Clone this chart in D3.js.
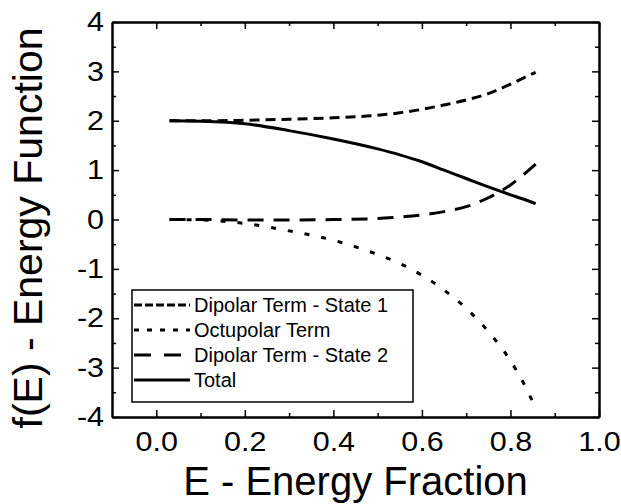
<!DOCTYPE html>
<html>
<head>
<meta charset="utf-8">
<script src="https://cdn.jsdelivr.net/npm/d3@7"></script>
<style>
  body { margin: 0; background: #fff; }
  svg { display: block; font-family: "Liberation Sans", Arial, Helvetica, sans-serif; }
  .tick text { font-size: 27px; fill: #000; transform-box: fill-box; }
  .x-axis .tick text { transform: scaleX(1.13); transform-origin: center; }
  .y-axis .tick text { transform: scaleX(1.13); transform-origin: right; }
  .tick line { stroke: #000; stroke-width: 1.5; }
  .domain { stroke: #000; stroke-width: 2; }
  .curve { fill: none; stroke: #000; stroke-width: 3; }
</style>
</head>
<body>
<svg width="621" height="504"></svg>
<script>
  // energy fraction sample points
  const energy = [0.03, 0.1, 0.2, 0.3, 0.4, 0.5, 0.55, 0.6, 0.65, 0.7, 0.75, 0.8, 0.83, 0.857];

  const dipolarState1 = [2.0, 2.0, 2.01, 2.03, 2.06, 2.11, 2.16, 2.23, 2.32, 2.42, 2.55, 2.74, 2.87, 2.98];
  const octupolar = [0.0, -0.01, -0.08, -0.23, -0.42, -0.71, -0.89, -1.13, -1.43, -1.8, -2.27, -2.86, -3.32, -3.82];
  const dipolarState2 = [0.0, 0.0, -0.01, -0.01, 0.0, 0.02, 0.05, 0.09, 0.16, 0.26, 0.44, 0.7, 0.91, 1.12];
  const total = [2.0, 1.99, 1.94, 1.8, 1.63, 1.43, 1.31, 1.17, 1.0, 0.83, 0.66, 0.5, 0.41, 0.32];

  const seriesNames = ["Dipolar Term - State 1", "Octupolar Term", "Dipolar Term - State 2", "Total"];
  const seriesValues = [dipolarState1, octupolar, dipolarState2, total];
  const seriesDash = ["10,6", "5,12", "16,10", null];
  const legendDash = ["8,3", "5,8", "17,13", null];

  const xMajor = [0.0, 0.2, 0.4, 0.6, 0.8, 1.0];
  const xMinor = [0.1, 0.3, 0.5, 0.7, 0.9];
  const yMajor = [-4, -3, -2, -1, 0, 1, 2, 3, 4];
  const yMinor = [-3.5, -2.5, -1.5, -0.5, 0.5, 1.5, 2.5, 3.5];

  const svg = d3.select("svg");
  svg.append("rect").attr("width", 621).attr("height", 504).attr("fill", "#fff");

  const plotLeft = 112, plotRight = 599, plotTop = 22, plotBottom = 417;

  const x = d3.scaleLinear().domain([-0.1, 1.0]).range([plotLeft, plotRight]);
  const y = d3.scaleLinear().domain([-4, 4]).range([plotBottom, plotTop]);

  // axes: ticks point inward, mirrored on top and right
  svg.append("g")
    .attr("class", "x-axis")
    .attr("transform", `translate(0,${plotBottom})`)
    .call(d3.axisBottom(x).tickValues(xMajor).tickFormat(d3.format(".1f"))
      .tickSize(-7).tickSizeOuter(0).tickPadding(15));
  svg.append("g")
    .attr("transform", `translate(0,${plotBottom})`)
    .call(d3.axisBottom(x).tickValues(xMinor).tickFormat("").tickSize(-4).tickSizeOuter(0));

  svg.append("g")
    .attr("transform", `translate(0,${plotTop})`)
    .call(d3.axisTop(x).tickValues(xMajor).tickFormat("").tickSize(-7).tickSizeOuter(0));
  svg.append("g")
    .attr("transform", `translate(0,${plotTop})`)
    .call(d3.axisTop(x).tickValues(xMinor).tickFormat("").tickSize(-4).tickSizeOuter(0));

  svg.append("g")
    .attr("class", "y-axis")
    .attr("transform", `translate(${plotLeft},0)`)
    .call(d3.axisLeft(y).tickValues(yMajor).tickFormat((d) => String(d))
      .tickSize(-7).tickSizeOuter(0).tickPadding(8));
  svg.append("g")
    .attr("transform", `translate(${plotLeft},0)`)
    .call(d3.axisLeft(y).tickValues(yMinor).tickFormat("").tickSize(-4).tickSizeOuter(0));

  svg.append("g")
    .attr("transform", `translate(${plotRight},0)`)
    .call(d3.axisRight(y).tickValues(yMajor).tickFormat("").tickSize(-7).tickSizeOuter(0));
  svg.append("g")
    .attr("transform", `translate(${plotRight},0)`)
    .call(d3.axisRight(y).tickValues(yMinor).tickFormat("").tickSize(-4).tickSizeOuter(0));

  // curves
  const line = d3.line()
    .x((d) => x(d[0]))
    .y((d) => y(d[1]))
    .curve(d3.curveMonotoneX);

  seriesValues.forEach((vals, i) => {
    const pts = energy.map((e, j) => [e, vals[j]]);
    svg.append("path")
      .attr("class", "curve")
      .attr("d", line(pts))
      .attr("stroke-dasharray", seriesDash[i]);
  });

  // legend
  const legend = svg.append("g");
  legend.append("rect")
    .attr("x", 132).attr("y", 290)
    .attr("width", 281).attr("height", 112)
    .attr("fill", "#fff").attr("stroke", "#000").attr("stroke-width", 1.5);

  seriesNames.forEach((name, i) => {
    const cy = 305 + i * 25;
    legend.append("line")
      .attr("x1", 134).attr("x2", 190)
      .attr("y1", cy).attr("y2", cy)
      .attr("stroke", "#000").attr("stroke-width", 3)
      .attr("stroke-dasharray", legendDash[i]);
    legend.append("text")
      .attr("x", 194).attr("y", cy + 7)
      .attr("font-size", "20px")
      .text(name);
  });

  // axis titles
  svg.append("text")
    .attr("x", (plotLeft + plotRight) / 2)
    .attr("y", 495)
    .attr("text-anchor", "middle")
    .attr("font-size", "40px")
    .text("E - Energy Fraction");

  svg.append("text")
    .attr("transform", "translate(42,228) rotate(-90)")
    .attr("text-anchor", "middle")
    .attr("font-size", "41px")
    .text("f(E) - Energy Function");
</script>
</body>
</html>
